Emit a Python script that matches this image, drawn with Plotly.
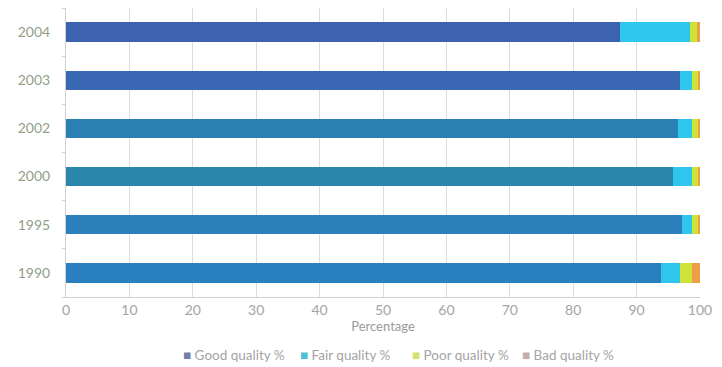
import plotly.graph_objects as go

# Survey years (bottom to top) and share of each quality class, in percent
years = ["1990", "1995", "2000", "2002", "2003", "2004"]
good = [93.8, 97.2, 95.8, 96.5, 96.8, 87.4]
fair = [3.0, 1.6, 3.0, 2.2, 1.9, 11.0]
poor = [2.0, 0.9, 0.9, 1.0, 1.0, 1.2]
bad = [1.2, 0.3, 0.3, 0.3, 0.3, 0.4]

x_ticks = [0, 10, 20, 30, 40, 50, 60, 70, 80, 90, 100]
series_names = ["Good quality %", "Fair quality %", "Poor quality %", "Bad quality %"]

good_colors = ["#2a7fc0", "#2b80bb", "#2a86aa", "#2a80b2", "#3b68b4", "#3d63b0"]
bar_colors = [good_colors, "#2ec6ec", "#cfe23a", "#eba046"]
key_colors = ["#7282a4", "#4cc2d2", "#d2e070", "#c4acac"]
key_x = [0.265, 0.44, 0.622, 0.792]

fig = go.Figure()
for name, vals, color in zip(series_names, [good, fair, poor, bad], bar_colors):
    fig.add_trace(go.Bar(
        y=years, x=vals, name=name, orientation="h",
        marker=dict(color=color, line=dict(width=0)),
        width=0.4, showlegend=False,
    ))

# Compact legend row below the axis title
for name, color, kx in zip(series_names, key_colors, key_x):
    fig.add_annotation(
        x=kx, y=-0.2, xref="paper", yref="paper",
        xanchor="center", yanchor="middle", showarrow=False,
        text=f"<span style='color:{color}'>■</span> {name}",
        font=dict(size=13.5, color="#a4a4a4"),
    )

fig.update_layout(
    barmode="stack",
    width=722, height=367,
    margin=dict(l=66, r=22, t=8, b=70, autoexpand=False),
    paper_bgcolor="white", plot_bgcolor="white",
    font=dict(family="Lato, Open Sans, sans-serif", color="#9a9a9a", size=12),
    showlegend=False,
)

fig.update_xaxes(
    range=[0, 100], tickvals=x_ticks, ticktext=[str(v) for v in x_ticks],
    showgrid=True, gridcolor="#dcdcdc", gridwidth=1,
    showline=True, linecolor="#d0d0d0", linewidth=1,
    zeroline=False, ticks="", tickfont=dict(size=14, color="#a4a4a4"),
    title=dict(text="Percentage", font=dict(size=13, color="#9a9a9a"), standoff=2),
)
fig.update_yaxes(
    type="category", categoryorder="array", categoryarray=years,
    showgrid=False, showline=True, linecolor="#d0d0d0", linewidth=1,
    ticks="outside", ticklen=3, tickcolor="#d0d0d0", tickson="boundaries",
    tickfont=dict(size=14, color="#8fa088"), ticklabelstandoff=12,
)

fig.write_html("out.html")
